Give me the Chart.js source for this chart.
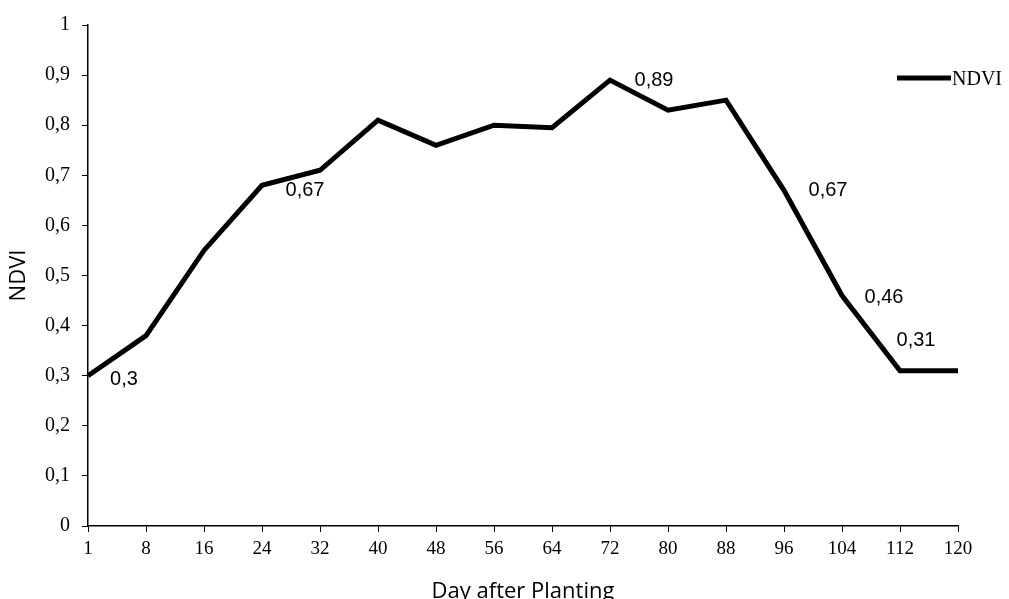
<!DOCTYPE html>
<html>
<head>
<meta charset="utf-8">
<script src="https://cdn.jsdelivr.net/npm/chart.js@4"></script>
<style>
  html, body { margin: 0; padding: 0; background: #fff; overflow: hidden; }
  #wrap { width: 1009px; height: 605px; position: relative; }
</style>
</head>
<body>
<div id="wrap"><canvas id="ndvi-chart"></canvas></div>
<script>
// days after planting
const days = ['1', '8', '16', '24', '32', '40', '48', '56', '64', '72', '80', '88', '96', '104', '112', '120'];
// NDVI
const ndvi = [0.30, 0.38, 0.55, 0.68, 0.71, 0.81, 0.76, 0.80, 0.795, 0.89, 0.83, 0.85, 0.67, 0.46, 0.31, 0.31];
// values printed next to the line (null = no label)
const printed = [0.3, null, null, 0.67, null, null, null, null, null, 0.89, null, null, 0.67, 0.46, 0.31, null];
const yTicks = [0, 0.1, 0.2, 0.3, 0.4, 0.5, 0.6, 0.7, 0.8, 0.9, 1];

function comma(v) {
    return String(Number(v.toFixed(2))).replace('.', ',');
}

// where each printed value sits relative to its point
const labelShift = { 0: [36, 4], 3: [43, 5], 9: [44, 0], 12: [44, 0], 13: [42, 2], 14: [16, -30] };

const valueLabels = {
    id: 'valueLabels',
    afterDatasetsDraw(chart) {
        const ctx = chart.ctx;
        const pts = chart.getDatasetMeta(0).data;
        ctx.save();
        ctx.font = '20px "Liberation Sans", Arial, sans-serif';
        ctx.fillStyle = '#000';
        ctx.textAlign = 'center';
        ctx.textBaseline = 'middle';
        printed.forEach((v, i) => {
            if (v === null) return;
            const s = labelShift[i] || [0, -15];
            ctx.fillText(comma(v), pts[i].x + s[0], pts[i].y + s[1]);
        });
        ctx.restore();
    }
};

// legend drawn inside the plot, top right
const sideLegend = {
    id: 'sideLegend',
    afterDraw(chart) {
        const ctx = chart.ctx;
        ctx.save();
        ctx.strokeStyle = '#000';
        ctx.lineWidth = 5;
        ctx.beginPath();
        ctx.moveTo(897, 78);
        ctx.lineTo(951, 78);
        ctx.stroke();
        ctx.font = '20px "Liberation Serif", "Times New Roman", serif';
        ctx.fillStyle = '#000';
        ctx.textBaseline = 'middle';
        ctx.fillText(chart.data.datasets[0].label, 952, 80);
        ctx.restore();
    }
};

new Chart(document.querySelector('#ndvi-chart').getContext('2d'), {
    type: 'line',
    data: {
        labels: days,
        datasets: [{
            label: 'NDVI',
            data: ndvi,
            borderColor: '#000',
            backgroundColor: '#000',
            borderWidth: 5,
            pointRadius: 0,
            tension: 0,
            borderJoinStyle: 'miter'
        }]
    },
    options: {
        responsive: true,
        maintainAspectRatio: false,
        animation: false,
        layout: { padding: { top: 25, right: 51, bottom: 0, left: 0 } },
        plugins: {
            legend: { display: false },
            tooltip: { enabled: false }
        },
        scales: {
            x: {
                offset: false,
                grid: { display: true, drawOnChartArea: false, drawTicks: true, tickLength: 6, color: '#000' },
                border: { color: '#000', width: 1.5 },
                ticks: {
                    color: '#000',
                    padding: 6,
                    maxRotation: 0,
                    autoSkip: false,
                    font: { family: '"Liberation Serif", "Times New Roman", serif', size: 19 }
                },
                title: {
                    display: true,
                    text: 'Day after Planting',
                    color: '#000',
                    padding: 0,
                    font: { family: '"Open Sans", sans-serif', size: 22 }
                },
                afterFit(scale) { scale.height = 79; }
            },
            y: {
                min: 0,
                max: 1,
                afterBuildTicks(scale) { scale.ticks = yTicks.map(v => ({ value: v })); },
                grid: { display: true, drawOnChartArea: false, drawTicks: true, tickLength: 6, color: '#000' },
                border: { color: '#000', width: 1.5 },
                ticks: {
                    color: '#000',
                    padding: 12,
                    callback: v => comma(v),
                    font: { family: '"Liberation Serif", "Times New Roman", serif', size: 20 }
                },
                title: {
                    display: true,
                    text: 'NDVI',
                    color: '#000',
                    padding: { top: 6, bottom: 0 },
                    font: { family: '"Open Sans", sans-serif', size: 22 }
                },
                afterFit(scale) { scale.width = 88; }
            }
        }
    },
    plugins: [valueLabels, sideLegend]
});
</script>
</body>
</html>
